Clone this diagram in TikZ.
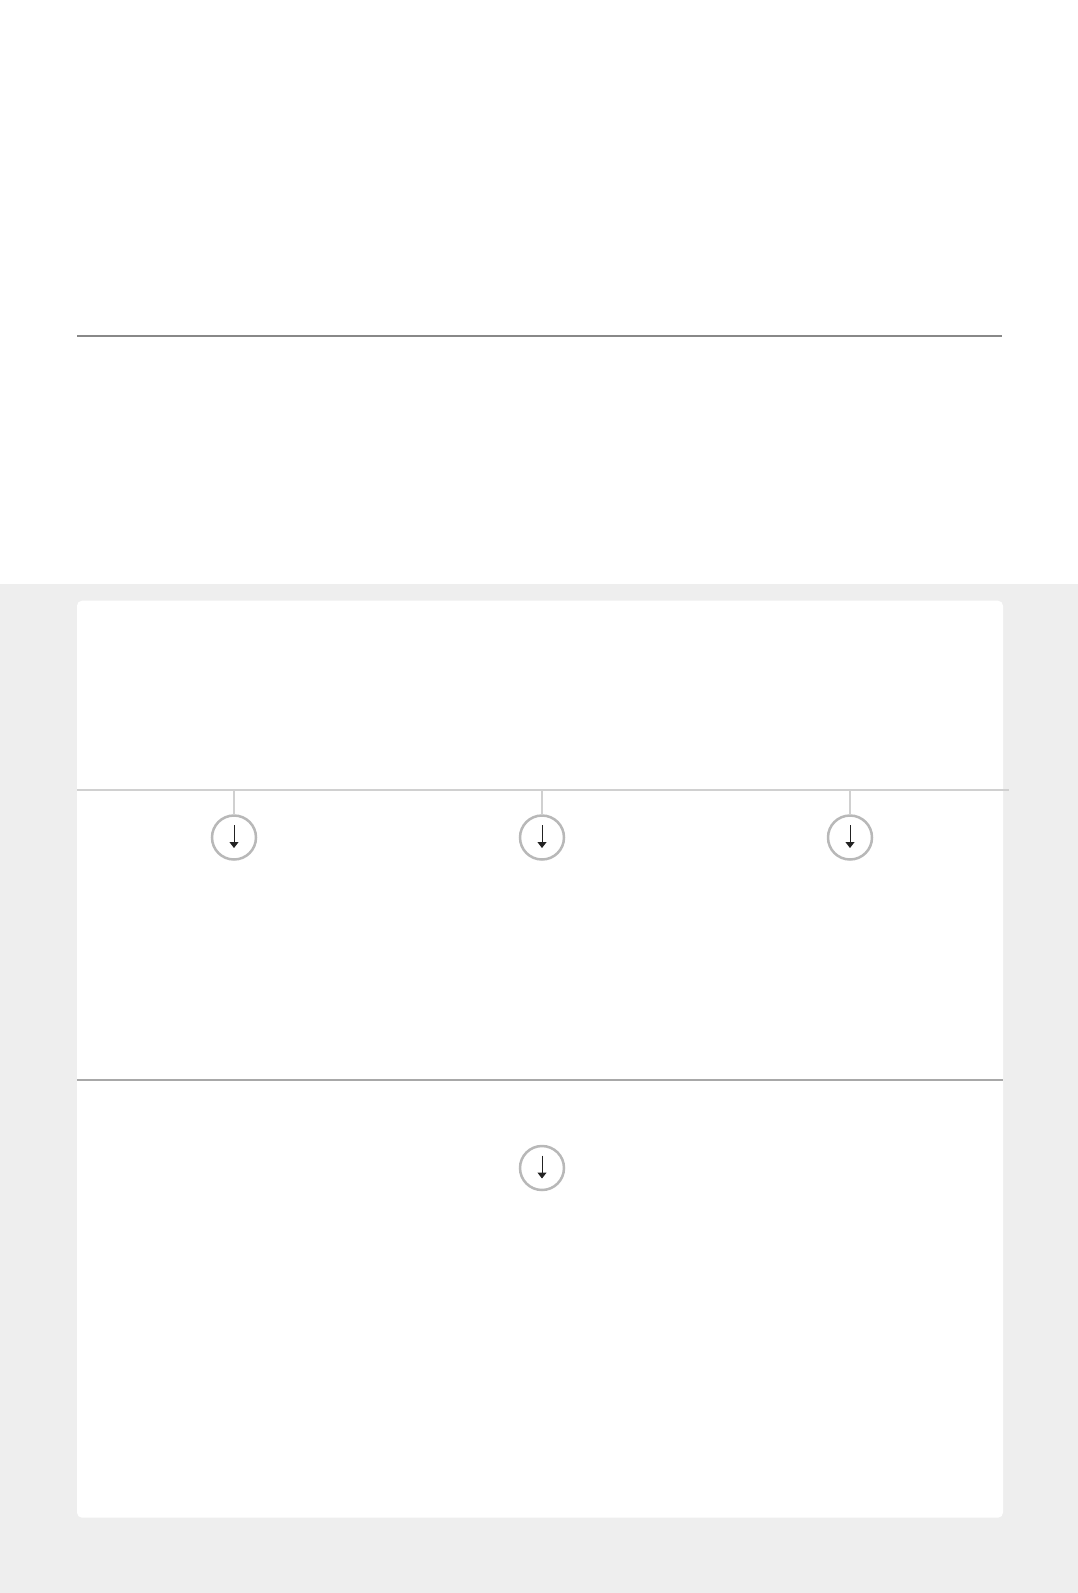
\documentclass[tikz,border=0pt]{standalone}
\usetikzlibrary{arrows.meta}
\definecolor{pagegrey}{HTML}{EEEEEE}
\definecolor{rulegrey}{HTML}{888888}
\definecolor{lightrule}{HTML}{D0D0D0}
\definecolor{midrule}{HTML}{A8A8A8}
\definecolor{ringgrey}{HTML}{B8B8B8}
\definecolor{arrowdark}{HTML}{222222}
\tikzset{
  ring/.style={circle, draw=ringgrey, line width=2.5pt, fill=white, minimum size=44pt, inner sep=0pt},
  stem/.style={draw=lightrule, line width=1.3pt},
  downarrow/.style={draw=arrowdark, line width=1pt, -{Triangle[width=9pt,length=6pt]}}
}
\begin{document}
\begin{tikzpicture}[x=1pt,y=-1pt]
\useasboundingbox (0,0) rectangle (1078,1593);
\fill[white] (0,0) rectangle (1078,584);
\fill[pagegrey] (0,584) rectangle (1078,1593);
\fill[white, rounded corners=5pt] (77,600.7) rectangle (1003,1517.7);
% top rule
\coordinate (t1) at (77,336);
\coordinate (t2) at (1002,336);
\draw[rulegrey, line width=1.3pt] (t1) -- (t2);
% light rule
\coordinate (l1) at (77,790);
\coordinate (l2) at (1009,790);
\draw[lightrule, line width=1.5pt] (l1) -- (l2);
% middle rule
\coordinate (m1) at (77,1080);
\coordinate (m2) at (1003,1080);
\draw[midrule, line width=1.5pt] (m1) -- (m2);
% rings
\foreach \n/\x in {a/234,b/542,c/850}{
  \coordinate (s\n) at (\x,790);
  \node[ring] (r\n) at (\x,837.5) {};
  \draw[stem] (s\n) -- (r\n.north);
  \coordinate (u\n) at (\x,825);
  \coordinate (d\n) at (\x,848);
  \draw[downarrow] (u\n) -- (d\n);
}
\node[ring] (rd) at (542,1168) {};
\coordinate (ud) at (542,1155.5);
\coordinate (dd) at (542,1178.5);
\draw[downarrow] (ud) -- (dd);
\end{tikzpicture}
\end{document}
